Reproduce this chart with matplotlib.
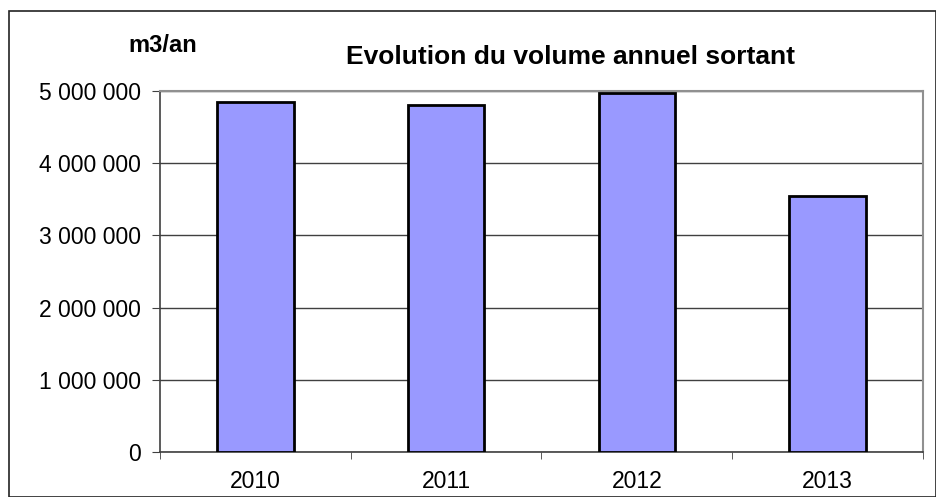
import matplotlib
matplotlib.use("Agg")
import matplotlib.pyplot as plt
from matplotlib.patches import Rectangle

years = ["2010", "2011", "2012", "2013"]
volumes = [4850000, 4810000, 4970000, 3550000]
yticks = [0, 1000000, 2000000, 3000000, 4000000, 5000000]
ytick_labels = ["0", "1 000 000", "2 000 000", "3 000 000", "4 000 000", "5 000 000"]

plt.rcParams['font.family'] = ['Liberation Sans', 'DejaVu Sans']
fig = plt.figure(figsize=(9.37, 4.97), dpi=100)
W, H = 937, 497
ax = fig.add_axes([160 / W, 1 - 452 / H, (923 - 160) / W, (452 - 91) / H])

x = list(range(len(years)))
ax.bar(x, volumes, width=0.4, color="#9999ff", edgecolor="black", linewidth=2, zorder=3)
ax.set_xlim(-0.5, 3.5)
ax.set_ylim(0, 5000000)
ax.set_yticks(yticks)
ax.set_yticklabels(ytick_labels, fontsize=16.5)
ax.set_xticks(x)
ax.set_xticklabels(years, fontsize=16.5)
ax.set_xticks([-0.5, 0.5, 1.5, 2.5, 3.5], minor=True)
ax.tick_params(axis='x', which='major', length=0, pad=13)
ax.tick_params(axis='x', which='minor', length=5, direction='out', color='#404040')
ax.tick_params(axis='y', length=6, direction='out', color='#404040', pad=8)
ax.yaxis.grid(True, color="#404040", linewidth=1, zorder=0)
ax.set_axisbelow(True)
for s in ['top', 'right']:
    ax.spines[s].set_color('#909090')
    ax.spines[s].set_linewidth(1.5)
for s in ['left', 'bottom']:
    ax.spines[s].set_color('#404040')
    ax.spines[s].set_linewidth(1.2)

fig.text(570 / W, 1 - 57 / H, "Evolution du volume annuel sortant", fontsize=19,
         fontweight='bold', ha='center', va='center')
fig.text(163 / W, 1 - 45 / H, "m3/an", fontsize=17, fontweight='bold', ha='center', va='center')

fig.patches.append(Rectangle((9 / W, 0), (936 - 9) / W, (497 - 11) / H, transform=fig.transFigure,
                             fill=False, edgecolor='#222222', linewidth=1.2))
fig.savefig("out.png", dpi=100)
